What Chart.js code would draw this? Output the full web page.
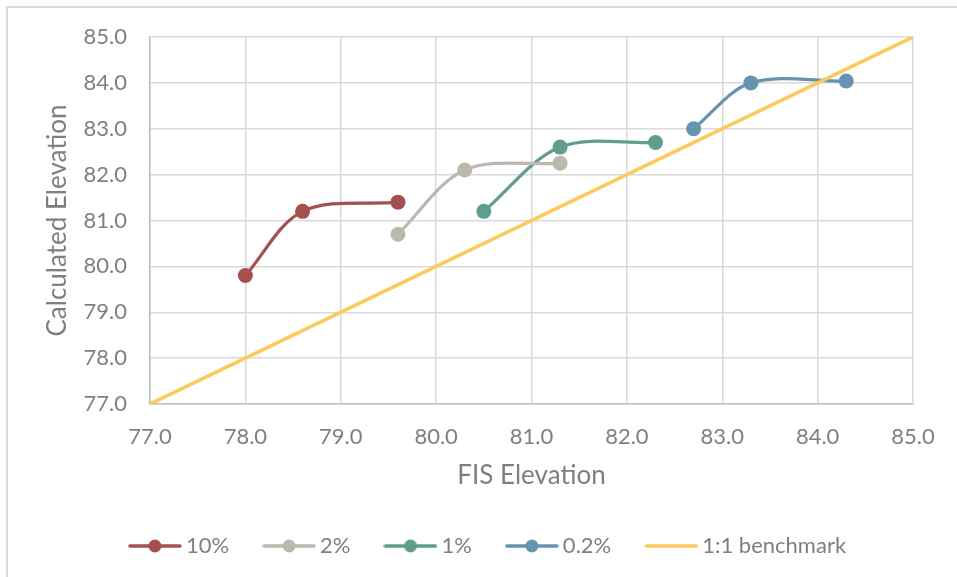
<!DOCTYPE html>
<html>
<head>
<meta charset="utf-8">
<script src="https://cdn.jsdelivr.net/npm/chart.js@4/dist/chart.umd.min.js"></script>
<style>
  html, body { margin: 0; padding: 0; background: #ffffff; }
  #wrap { position: relative; width: 957px; height: 577px; }
</style>
</head>
<body>
<div id="wrap"><canvas id="chart" width="957" height="577"></canvas></div>
<script>
// FIS elevation (x) and calculated elevation (y) for each storm frequency
const fis10 = [78.0, 78.6, 79.6];
const calc10 = [79.8, 81.2, 81.4];
const fis2 = [79.6, 80.3, 81.3];
const calc2 = [80.7, 82.1, 82.25];
const fis1 = [80.5, 81.3, 82.3];
const calc1 = [81.2, 82.6, 82.7];
const fis02 = [82.7, 83.3, 84.3];
const calc02 = [83.0, 84.0, 84.04];
// 1:1 reference line end points
const benchX = [77.0, 85.0];
const benchY = [77.0, 85.0];
// axis range and tick step
const axisMin = 77.0;
const axisMax = 85.0;
const axisStep = 1.0;

const seriesNames = ['10%', '2%', '1%', '0.2%', '1:1 benchmark'];
const seriesColors = ['#a5504e', '#bdb8ad', '#5f9e8f', '#6594b1', '#ffc85b'];

const toPoints = (xs, ys) => xs.map((x, i) => ({ x: x, y: ys[i] }));

const TEXT = '#7f7f7f';
const FONT = 'Lato, "Open Sans", sans-serif';

function markerSeries(idx, xs, ys) {
  return {
    label: seriesNames[idx],
    data: toPoints(xs, ys),
    borderColor: seriesColors[idx],
    backgroundColor: seriesColors[idx],
    borderWidth: 3.2,
    tension: 0.33,
    pointRadius: 7.5,
    pointHoverRadius: 7.5,
    pointBorderWidth: 0,
    pointBackgroundColor: seriesColors[idx],
    showLine: true,
    order: 1
  };
}

// Legend swatch: a short line, with a round marker for the data series
function legendIcon(color, withMarker) {
  const c = document.createElement('canvas');
  c.width = 54; c.height = 16;
  const g = c.getContext('2d');
  g.strokeStyle = color;
  g.lineWidth = 3.4;
  g.lineCap = 'round';
  g.beginPath(); g.moveTo(2, 8); g.lineTo(52, 8); g.stroke();
  if (withMarker) {
    g.fillStyle = color;
    g.beginPath(); g.arc(27, 8, 6.5, 0, Math.PI * 2); g.fill();
  }
  return c;
}

// Thin frame along the top and left of the figure
const framePlugin = {
  id: 'frame',
  beforeDraw(chart) {
    const ctx = chart.ctx;
    ctx.save();
    ctx.fillStyle = '#ffffff';
    ctx.fillRect(0, 0, chart.width, chart.height);
    ctx.strokeStyle = '#d9d9d9';
    ctx.lineWidth = 2;
    ctx.beginPath();
    ctx.moveTo(7, chart.height);
    ctx.lineTo(7, 7);
    ctx.lineTo(chart.width, 7);
    ctx.stroke();
    ctx.restore();
  }
};

// Nudge the legend row so it sits centred under the plot as a whole
const legendShift = {
  id: 'legendShift',
  afterLayout(chart) {
    const lg = chart.legend;
    if (lg) { lg.left += 34; lg.right += 34; }
  }
};

new Chart(document.getElementById('chart'), {
  type: 'scatter',
  data: {
    datasets: [
      markerSeries(0, fis10, calc10),
      markerSeries(1, fis2, calc2),
      markerSeries(2, fis1, calc1),
      markerSeries(3, fis02, calc02),
      {
        label: seriesNames[4],
        data: toPoints(benchX, benchY),
        borderColor: seriesColors[4],
        backgroundColor: seriesColors[4],
        borderWidth: 3.5,
        pointRadius: 0,
        pointHoverRadius: 0,
        showLine: true,
        tension: 0,
        order: 0
      }
    ]
  },
  options: {
    responsive: false,
    animation: false,
    layout: { padding: { left: 0, right: 44, top: 37, bottom: 10 } },
    scales: {
      x: {
        type: 'linear',
        min: axisMin, max: axisMax,
        ticks: {
          stepSize: axisStep,
          padding: 20,
          color: TEXT,
          font: { family: FONT, size: 22 },
          callback: v => Number(v).toFixed(1)
        },
        grid: { color: '#d9d9d9', lineWidth: 1.5, drawTicks: false },
        border: { color: '#bfbfbf', width: 1.5 },
        title: {
          display: true, text: 'FIS Elevation', color: TEXT,
          font: { family: FONT, size: 26 },
          padding: { top: 0, bottom: 4 }
        },
        afterFit: s => { s.height = 91; }
      },
      y: {
        type: 'linear',
        min: axisMin, max: axisMax,
        ticks: {
          stepSize: axisStep,
          padding: 23,
          color: TEXT,
          font: { family: FONT, size: 22 },
          callback: v => Number(v).toFixed(1)
        },
        grid: { color: '#d9d9d9', lineWidth: 1.5, drawTicks: false },
        border: { color: '#bfbfbf', width: 1.5 },
        title: {
          display: true, text: 'Calculated Elevation', color: TEXT,
          font: { family: FONT, size: 26 },
          padding: { top: 42, bottom: 0 }
        },
        afterFit: s => { s.width = 150; }
      }
    },
    plugins: {
      tooltip: { enabled: false },
      legend: {
        position: 'bottom',
        align: 'center',
        labels: {
          usePointStyle: true,
          pointStyleWidth: 40,
          padding: 40,
          color: TEXT,
          font: { family: FONT, size: 22 },
          sort: (a, b) => a.datasetIndex - b.datasetIndex,
          generateLabels: chart => chart.data.datasets.map((ds, i) => ({
            text: ds.label,
            pointStyle: legendIcon(ds.borderColor, i < 4),
            fillStyle: ds.borderColor,
            strokeStyle: ds.borderColor,
            lineWidth: 0,
            fontColor: TEXT,
            hidden: false,
            datasetIndex: i
          }))
        }
      }
    }
  },
  plugins: [framePlugin, legendShift]
});
</script>
</body>
</html>
